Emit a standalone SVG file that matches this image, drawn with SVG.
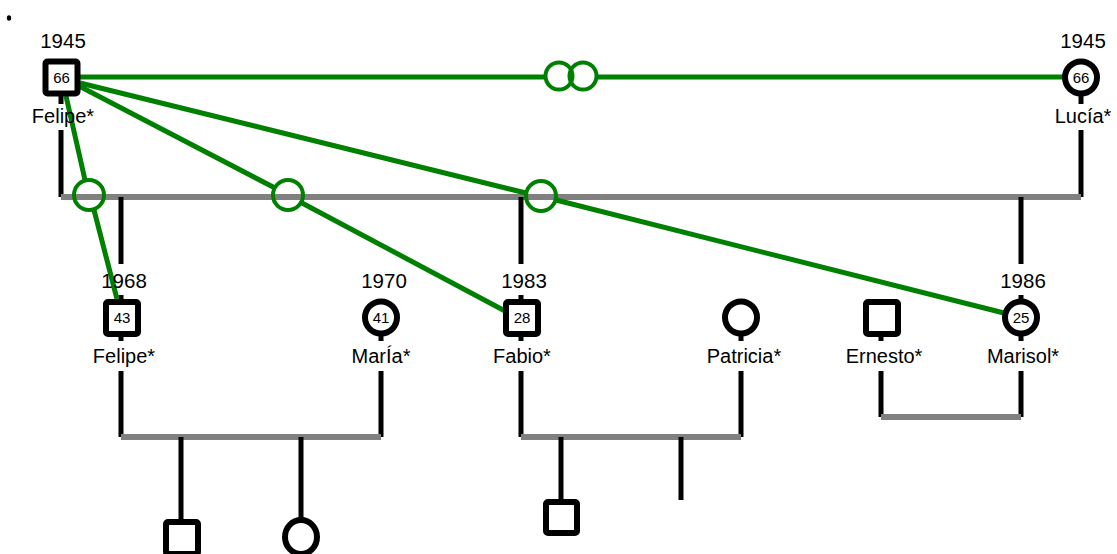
<svg xmlns="http://www.w3.org/2000/svg" width="1117" height="554" viewBox="0 0 1117 554">
<style>
text{font-family:"Liberation Sans",Arial,sans-serif;fill:#000}
.lbl{font-size:20px;text-anchor:middle}
.yr{font-size:20.5px;text-anchor:middle}
.age{font-size:15px;text-anchor:middle}
.sym{fill:#fff;stroke:#000;stroke-width:6}
.blk{stroke:#000;stroke-width:5;fill:none}
.gry{stroke:#808080;stroke-width:6;fill:none}
.grn{stroke:#008000;stroke-width:5;fill:none}
.ring{stroke:#008000;stroke-width:4;fill:none}
</style>
<rect width="1117" height="554" fill="#fff"/>
<ellipse cx="9" cy="18" rx="2.2" ry="2.8" fill="#000"/>
<g id="connectors">
  <path class="blk" d="M61 96V104M61 130V197M1081 96V104M1081 130V197"/>
  <path class="gry" d="M61 197H1081"/>
  <path class="blk" d="M121 197V264M121 295V300M521 197V264M521 295V300M1021 197V264M1021 295V300"/>
  <path class="blk" d="M121 335V341M381 335V341M521 335V341M741 335V341M881 335V341M1021 335V341"/>
  <path class="blk" d="M121 371V437M381 371V437"/>
  <path class="gry" d="M121 437H381"/>
  <path class="blk" d="M181 437V520M301 437V520"/>
  <path class="blk" d="M521 371V437M741 371V437"/>
  <path class="gry" d="M521 437H741"/>
  <path class="blk" d="M561 437V500M681 437V500"/>
  <path class="blk" d="M881 371V417M1021 371V417"/>
  <path class="gry" d="M881 417H1021"/>
  <path class="grn" d="M80 77H545M597 77H1063"/>
  <circle class="ring" cx="559" cy="76" r="13.5"/>
  <circle class="ring" cx="583" cy="76" r="13.5"/>
  <path class="grn" d="M66 96L85 180M94 210L117 299"/>
  <circle class="ring" cx="89" cy="195" r="15"/>
  <path class="grn" d="M79 86L275 188M302 203L505 311"/>
  <circle class="ring" cx="288" cy="195" r="15"/>
  <path class="grn" d="M80 83L526 193M556 200L1004 313"/>
  <circle class="ring" cx="541" cy="196" r="15"/>
</g>
<g id="felipe1945">
  <rect class="sym" x="45.5" y="61.5" width="32" height="32" rx="2"/>
  <text class="age" x="61.5" y="83">66</text>
  <text class="yr" x="63" y="48">1945</text>
  <text class="lbl" x="63" y="123">Felipe*</text>
</g>
<g id="lucia">
  <circle class="sym" cx="1081" cy="77.5" r="16"/>
  <text class="age" x="1081" y="83">66</text>
  <text class="yr" x="1083" y="48">1945</text>
  <text class="lbl" x="1083" y="123">Lucía*</text>
</g>
<g id="felipe1968">
  <rect class="sym" x="106" y="302" width="32" height="32" rx="2"/>
  <text class="age" x="122" y="323">43</text>
  <text class="yr" x="124" y="288">1968</text>
  <text class="lbl" x="124" y="363">Felipe*</text>
</g>
<g id="maria">
  <circle class="sym" cx="381" cy="317.5" r="16"/>
  <text class="age" x="381" y="323">41</text>
  <text class="yr" x="384" y="288">1970</text>
  <text class="lbl" x="381" y="363">MarÍa*</text>
</g>
<g id="fabio">
  <rect class="sym" x="506" y="302" width="32" height="32" rx="2"/>
  <text class="age" x="522" y="323">28</text>
  <text class="yr" x="524" y="288">1983</text>
  <text class="lbl" x="522" y="363">Fabio*</text>
</g>
<g id="patricia">
  <circle class="sym" cx="741" cy="317.5" r="16"/>
  <text class="lbl" x="744" y="363">Patricia*</text>
</g>
<g id="ernesto">
  <rect class="sym" x="866" y="302" width="32" height="32" rx="2"/>
  <text class="lbl" x="884" y="363">Ernesto*</text>
</g>
<g id="marisol">
  <circle class="sym" cx="1021" cy="317.5" r="16"/>
  <text class="age" x="1021" y="323">25</text>
  <text class="yr" x="1023" y="288">1986</text>
  <text class="lbl" x="1023" y="363">Marisol*</text>
</g>
<g id="grandson1">
  <rect class="sym" x="166" y="522" width="32" height="32" rx="2"/>
</g>
<g id="granddaughter">
  <ellipse class="sym" cx="301" cy="537" rx="16" ry="17"/>
</g>
<g id="grandson2">
  <rect class="sym" x="546" y="502" width="31" height="31" rx="2"/>
</g>
</svg>
